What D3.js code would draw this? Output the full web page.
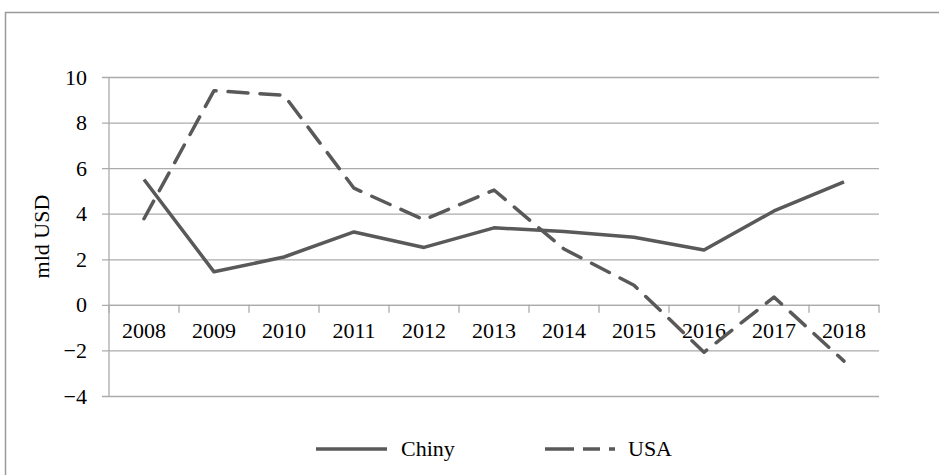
<!DOCTYPE html>
<html><head><meta charset="utf-8">
<script src="https://cdn.jsdelivr.net/npm/d3@7"></script>
<style>html,body{margin:0;padding:0;background:#fff;overflow:hidden}</style>
</head><body>
<script>
const categories = ["2008","2009","2010","2011","2012","2013","2014","2015","2016","2017","2018"];
const chiny = [5.5, 1.45, 2.1, 3.2, 2.52, 3.38, 3.22, 2.97, 2.41, 4.12, 5.4];
const usa = [3.78, 9.4, 9.2, 5.12, 3.73, 5.04, 2.45, 0.86, -2.08, 0.34, -2.47];
const yTicks = [-4, -2, 0, 2, 4, 6, 8, 10];
const seriesNames = ["Chiny", "USA"];

(function () {
const W = 939, H = 475;
const font = "'Liberation Serif', 'Times New Roman', serif";
const fs = 22;
const svg = d3.select("body").append("svg").attr("width", W).attr("height", H);

svg.append("rect").attr("x", 5.5).attr("y", 12.5).attr("width", 1000).attr("height", 500)
  .attr("fill", "none").attr("stroke", "#9a9a9a").attr("stroke-width", 1.5);

const pL = 109, pR = 879, pT = 77, pB = 396;
const x = d3.scaleBand().domain(categories).range([pL, pR]);
const y = d3.scaleLinear().domain([-4, 10]).range([pB, pT]);

const yAxis = d3.axisLeft(y).tickValues(yTicks).tickSize(pR - pL + 7)
  .tickFormat(d => d < 0 ? "\u2212" + Math.abs(d) : d).tickPadding(14);
const gy = svg.append("g").attr("transform", `translate(${pR},0)`).call(yAxis);
gy.select(".domain").remove();
gy.selectAll(".tick line").attr("stroke", "#ababab").attr("stroke-width", 1.3);
gy.selectAll(".tick text").attr("font-family", font).attr("font-size", fs).attr("fill", "#000")
  .attr("x", -(pR - pL) - 22);

svg.append("line").attr("x1", pL).attr("x2", pL).attr("y1", pT).attr("y2", pB)
  .attr("stroke", "#ababab").attr("stroke-width", 1.3);

const xAxis = d3.axisBottom(x).tickSize(0).tickPadding(18);
const gx = svg.append("g").attr("transform", `translate(0,${y(0)})`).call(xAxis);
gx.select(".domain").attr("stroke", "#ababab").attr("stroke-width", 1.3);
gx.selectAll(".tick text").attr("font-family", font).attr("font-size", fs).attr("fill", "#000");
const bounds = categories.map(c => x(c)).concat([x(categories[categories.length - 1]) + x.bandwidth()]);
gx.selectAll(".bt").data(bounds).enter().append("line")
  .attr("x1", d => d).attr("x2", d => d).attr("y1", 0).attr("y2", 8)
  .attr("stroke", "#ababab").attr("stroke-width", 1.3);

svg.append("text").attr("transform", `translate(49,${(pT + pB) / 2}) rotate(-90)`)
  .attr("text-anchor", "middle").attr("font-family", font).attr("font-size", fs).text("mld USD");

const line = d3.line().x((d, i) => x(categories[i]) + x.bandwidth() / 2).y(d => y(d));
const col = "#595959";
svg.append("path").datum(chiny).attr("d", line).attr("fill", "none").attr("stroke", col)
  .attr("stroke-width", 3.5).attr("stroke-linejoin", "round");
svg.append("path").datum(usa).attr("d", line).attr("fill", "none").attr("stroke", col)
  .attr("stroke-width", 3.5).attr("stroke-linejoin", "round").attr("stroke-linecap", "round")
  .attr("stroke-dasharray", "20,12");

const ly = 449;
svg.append("line").attr("x1", 316).attr("x2", 387).attr("y1", ly).attr("y2", ly)
  .attr("stroke", col).attr("stroke-width", 3.5);
svg.append("text").attr("x", 401).attr("y", ly + 7).attr("font-family", font).attr("font-size", fs).text(seriesNames[0]);
svg.append("line").attr("x1", 545).attr("x2", 615).attr("y1", ly).attr("y2", ly)
  .attr("stroke", col).attr("stroke-width", 3.5)
  .attr("stroke-dasharray", "29,9,17,9,6,100");
svg.append("text").attr("x", 628).attr("y", ly + 7).attr("font-family", font).attr("font-size", fs).text(seriesNames[1]);
})();
</script>
</body></html>
